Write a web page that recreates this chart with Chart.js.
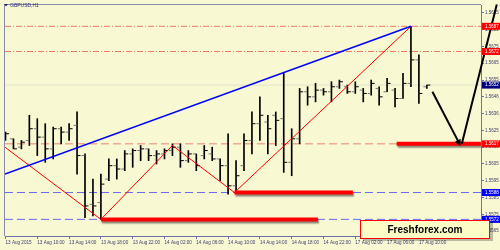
<!DOCTYPE html>
<html>
<head>
<meta charset="utf-8">
<script src="https://cdn.jsdelivr.net/npm/chart.js@4.4.1/dist/chart.umd.min.js"></script>
<style>
  html, body { margin: 0; padding: 0; background: #f8f8d3; }
  #wrap { width: 500px; height: 250px; position: relative; }
</style>
</head>
<body>
<div id="wrap"><canvas id="grafica"></canvas></div>
<script>
// ===============================
// DATOS: GBPUSD H1, 13 Aug 06:00 -> 17 Aug 11:00 (un valor por vela)
// ===============================
const opens  = [1.5620, 1.5620, 1.5615, 1.5619, 1.5626, 1.5621, 1.5614, 1.5626, 1.5624, 1.5628,
                1.5610, 1.5581, 1.5582, 1.5596, 1.5604, 1.5602, 1.5611, 1.5613, 1.5614, 1.5610,
                1.5611, 1.5613, 1.5615, 1.5607, 1.5611, 1.5610, 1.5611, 1.5608, 1.5604, 1.5592,
                1.5604, 1.5619, 1.5629, 1.5630, 1.5634, 1.5632, 1.5606, 1.5620, 1.5648, 1.5645,
                1.5649, 1.5648, 1.5651, 1.5651, 1.5648, 1.5649, 1.5647, 1.5650, 1.5648, 1.5649,
                1.5644, 1.5653, 1.5667, 1.5651];
const highs  = [1.5624, 1.5620, 1.5619, 1.5634, 1.5632, 1.5629, 1.5627, 1.5627, 1.5629, 1.5636,
                1.5611, 1.5596, 1.5599, 1.5608, 1.5608, 1.5613, 1.5614, 1.5616, 1.5614, 1.5613,
                1.5614, 1.5617, 1.5617, 1.5613, 1.5611, 1.5616, 1.5615, 1.5608, 1.5623, 1.5607,
                1.5623, 1.5636, 1.5645, 1.5634, 1.5636, 1.5659, 1.5626, 1.5650, 1.5651, 1.5653,
                1.5650, 1.5654, 1.5655, 1.5652, 1.5654, 1.5650, 1.5655, 1.5651, 1.5656, 1.5650,
                1.5659, 1.5687, 1.5670, 1.5652];
const lows   = [1.5619, 1.5614, 1.5614, 1.5616, 1.5610, 1.5606, 1.5608, 1.5617, 1.5619, 1.5599,
                1.5573, 1.5574, 1.5572, 1.5595, 1.5596, 1.5601, 1.5603, 1.5607, 1.5607, 1.5605,
                1.5608, 1.5610, 1.5603, 1.5606, 1.5601, 1.5608, 1.5607, 1.5595, 1.5587, 1.5588,
                1.5601, 1.5611, 1.5619, 1.5611, 1.5616, 1.5600, 1.5598, 1.5617, 1.5640, 1.5642,
                1.5646, 1.5642, 1.5650, 1.5647, 1.5647, 1.5642, 1.5646, 1.5640, 1.5648, 1.5639,
                1.5644, 1.5651, 1.5641, 1.5650];
const closes = [1.5623, 1.5614, 1.5618, 1.5626, 1.5621, 1.5614, 1.5626, 1.5624, 1.5626, 1.5610,
                1.5580, 1.5580, 1.5593, 1.5604, 1.5602, 1.5611, 1.5613, 1.5614, 1.5610, 1.5611,
                1.5613, 1.5615, 1.5607, 1.5611, 1.5604, 1.5613, 1.5608, 1.5604, 1.5592, 1.5598,
                1.5619, 1.5629, 1.5634, 1.5626, 1.5631, 1.5606, 1.5620, 1.5648, 1.5645, 1.5649,
                1.5648, 1.5651, 1.5654, 1.5648, 1.5651, 1.5647, 1.5653, 1.5645, 1.5653, 1.5644,
                1.5653, 1.5667, 1.5647, 1.5652];

const xTickIdx = [0, 4, 8, 12, 16, 20, 24, 28, 32, 36, 40, 44, 48, 52];
const xLabels  = ["13 Aug 2015", "13 Aug 10:00", "13 Aug 14:00", "13 Aug 18:00", "13 Aug 22:00",
                  "14 Aug 02:00", "14 Aug 06:00", "14 Aug 10:00", "14 Aug 14:00", "14 Aug 18:00",
                  "14 Aug 22:00", "17 Aug 02:00", "17 Aug 06:00", "17 Aug 10:00"];

const yTickVals   = [1.5695, 1.5685, 1.5675, 1.5665, 1.5655, 1.5645, 1.5635,
                     1.5625, 1.5615, 1.5605, 1.5595, 1.5585, 1.5575, 1.5565];
const yTickLabels = ["1.5695", "1.5685", "1.5675", "1.5665", "1.5655", "1.5646", "1.5636",
                     "1.5625", "1.5615", "1.5605", "1.5595", "1.5585", "1.5575", "1.5565"];

// niveles horizontales
const levelPrices = [1.5687, 1.5672, 1.5652, 1.5617, 1.5588, 1.5572];

// dibujos del analista (indice de vela, precio)
const trendX = [-0.06, 51];
const trendY = [1.5599, 1.5687];
const zigX   = [-0.06, 12, 21, 28.8, 51];
const zigY   = [1.5615, 1.5572, 1.5616, 1.5588, 1.5687];
const zoneFrom = [12, 28.8, 49.2];
const zoneTo   = [39.3, 43.7, 59.8];
const zoneY    = [1.5572, 1.5588, 1.5617];
const arrowX = [[53.7, 57.0], [57.4, 61.8]];
const arrowY = [[1.5648, 1.5618], [1.5617, 1.5700]];

// ===============================
// ESTILOS
// ===============================
const BG = "#f8f8d3";
const X_MIN = -0.0625, X_MAX = 59.8125;
const Y_MIN = 1.55621, Y_MAX = 1.56997;

const levelStyle = [
  { color: "#f07a62", dash: [6, 2, 1, 2], box: "#ff0000" },
  { color: "#f07a62", dash: [6, 2, 1, 2], box: "#ff0000" },
  { color: "#e2e2cc", dash: [],           box: "#000080" },
  { color: "#f08070", dash: [8, 4],       box: "#ff0000" },
  { color: "#6a6af0", dash: [8, 4],       box: "#0000ff" },
  { color: "#6a6af0", dash: [8, 4],       box: "#0000ff" }
];
const arrowRot = [152, 14];

const datasets = [];

levelPrices.forEach((p, i) => {
  datasets.push({
    type: "line",
    data: [{ x: X_MIN, y: p }, { x: X_MAX, y: p }],
    borderColor: levelStyle[i].color,
    borderWidth: 1,
    borderDash: levelStyle[i].dash,
    pointRadius: 0,
    order: 10
  });
});

datasets.push({
  type: "bar",
  data: highs.map((h, i) => ({ x: i, y: [lows[i], h] })),
  backgroundColor: "#000",
  barThickness: 1,
  grouped: false,
  order: 8
});

datasets.push({
  type: "line",
  showLine: false,
  data: opens.map((o, i) => ({ x: i - 0.25, y: o })),
  pointStyle: "line",
  pointRadius: 1.5,
  pointBorderColor: "#777",
  pointBorderWidth: 1,
  order: 7
});
datasets.push({
  type: "line",
  showLine: false,
  data: closes.map((c, i) => ({ x: i + 0.25, y: c })),
  pointStyle: "line",
  pointRadius: 1.5,
  pointBorderColor: "#000",
  pointBorderWidth: 1,
  order: 7
});

datasets.push({
  type: "line",
  data: trendX.map((x, i) => ({ x, y: trendY[i] })),
  borderColor: "#0000ff",
  borderWidth: 1.5,
  pointRadius: 0,
  order: 5
});
datasets.push({
  type: "line",
  data: zigX.map((x, i) => ({ x, y: zigY[i] })),
  borderColor: "#ff0000",
  borderWidth: 1,
  pointRadius: 0,
  order: 5
});

zoneY.forEach((p, i) => {
  datasets.push({
    type: "line",
    data: [{ x: zoneFrom[i], y: p }, { x: zoneTo[i], y: p }],
    borderColor: "#ff0000",
    borderWidth: 4,
    borderCapStyle: "butt",
    pointRadius: 0,
    shadow: true,
    order: 4
  });
});

arrowX.forEach((xs, i) => {
  datasets.push({
    type: "line",
    data: xs.map((x, j) => ({ x, y: arrowY[i][j] })),
    borderColor: "#000",
    borderWidth: 2,
    pointRadius: [0, 4],
    pointStyle: "triangle",
    rotation: [0, arrowRot[i]],
    pointBackgroundColor: "#000",
    pointBorderWidth: 0,
    clip: false,
    order: 3
  });
});

// ===============================
// PLUGIN: fondo, marco, etiquetas de precio, titulo y marca
// ===============================
const decor = {
  id: "decor",
  beforeDraw(c) {
    const ctx = c.ctx;
    ctx.save();
    ctx.fillStyle = BG;
    ctx.fillRect(0, 0, c.width, c.height);
    ctx.restore();
  },
  beforeDatasetDraw(c, args) {
    if (c.data.datasets[args.index].shadow) {
      const ctx = c.ctx;
      ctx.save();
      ctx.shadowColor = "rgba(0,0,0,0.45)";
      ctx.shadowOffsetX = 1;
      ctx.shadowOffsetY = 2;
      ctx.shadowBlur = 1.5;
    }
  },
  afterDatasetDraw(c, args) {
    if (c.data.datasets[args.index].shadow) c.ctx.restore();
  },
  afterDraw(c) {
    const ctx = c.ctx;
    const a = c.chartArea;
    const ys = c.scales.y;
    ctx.save();

    // marco izquierdo y superior
    ctx.strokeStyle = "#8a8aaa";
    ctx.lineWidth = 1;
    ctx.beginPath();
    ctx.moveTo(a.left - 0.5, a.bottom);
    ctx.lineTo(a.left - 0.5, a.top - 0.5);
    ctx.lineTo(a.right, a.top - 0.5);
    ctx.stroke();

    // cajas de precio en el eje
    ctx.font = "4.5px 'Liberation Sans'";
    ctx.textBaseline = "middle";
    ctx.textAlign = "left";
    levelPrices.forEach((p, i) => {
      const y = ys.getPixelForValue(p);
      ctx.fillStyle = levelStyle[i].box;
      ctx.fillRect(a.right + 1, y - 3.5, 18, 7);
      ctx.fillStyle = "#fff";
      ctx.fillText(p.toFixed(4), a.right + 4, y);
    });

    // titulo
    ctx.fillStyle = "#202080";
    ctx.beginPath();
    ctx.moveTo(4, 4);
    ctx.lineTo(8, 4);
    ctx.lineTo(6, 6.5);
    ctx.closePath();
    ctx.fill();
    ctx.font = "5px 'Liberation Sans'";
    ctx.fillStyle = "#303080";
    ctx.fillText("GBPUSD,H1", 10, 5.5);

    // marca Freshforex
    ctx.fillStyle = "rgba(0,0,0,0.25)";
    ctx.fillRect(363, 222, 130, 19);
    ctx.fillStyle = "#fcfcc6";
    ctx.fillRect(360, 220, 130, 19);
    ctx.strokeStyle = "#ff0000";
    ctx.lineWidth = 1;
    ctx.strokeRect(360.5, 220.5, 129, 18);
    ctx.fillStyle = "#000";
    ctx.font = "bold 10px 'Liberation Sans'";
    ctx.textAlign = "center";
    ctx.fillText("Freshforex.com", 425, 230.5);
    ctx.restore();
  }
};

// ===============================
// GRAFICA
// ===============================
const ctx = document.getElementById("grafica").getContext("2d");

new Chart(ctx, {
  type: "line",
  data: { datasets },
  plugins: [decor],
  options: {
    responsive: true,
    maintainAspectRatio: false,
    animation: false,
    events: [],
    layout: { padding: { left: 2, top: 2, right: 0, bottom: 0 } },
    plugins: { legend: { display: false }, tooltip: { enabled: false } },
    scales: {
      x: {
        type: "linear",
        offset: false,
        min: X_MIN,
        max: X_MAX,
        afterFit: s => { s.height = 14; s.paddingLeft = 0; s.paddingRight = 0; },
        afterBuildTicks: s => { s.ticks = xTickIdx.map(v => ({ value: v })); },
        ticks: {
          autoSkip: false,
          maxRotation: 0,
          align: "start",
          padding: 1,
          color: "#404070",
          font: { family: "'Liberation Sans'", size: 4.6 },
          callback: (v, i) => xLabels[i]
        },
        grid: { display: true, offset: false, drawOnChartArea: false, drawTicks: true, tickLength: 3, color: "#7070a8" },
        border: { display: true, color: "#7070a8" }
      },
      y: {
        type: "linear",
        position: "right",
        beginAtZero: false,
        min: Y_MIN,
        max: Y_MAX,
        afterFit: s => { s.width = 19; s.paddingTop = 0; s.paddingBottom = 0; },
        afterBuildTicks: s => { s.ticks = yTickVals.map(v => ({ value: v })); },
        ticks: {
          padding: 1,
          color: "#404070",
          font: { family: "'Liberation Sans'", size: 4.5 },
          callback: (v, i) => yTickLabels[i]
        },
        grid: { display: true, drawOnChartArea: false, drawTicks: true, tickLength: 3, color: "#7070c0" },
        border: { display: true, color: "#7070c0" }
      }
    }
  }
});
</script>
</body>
</html>
